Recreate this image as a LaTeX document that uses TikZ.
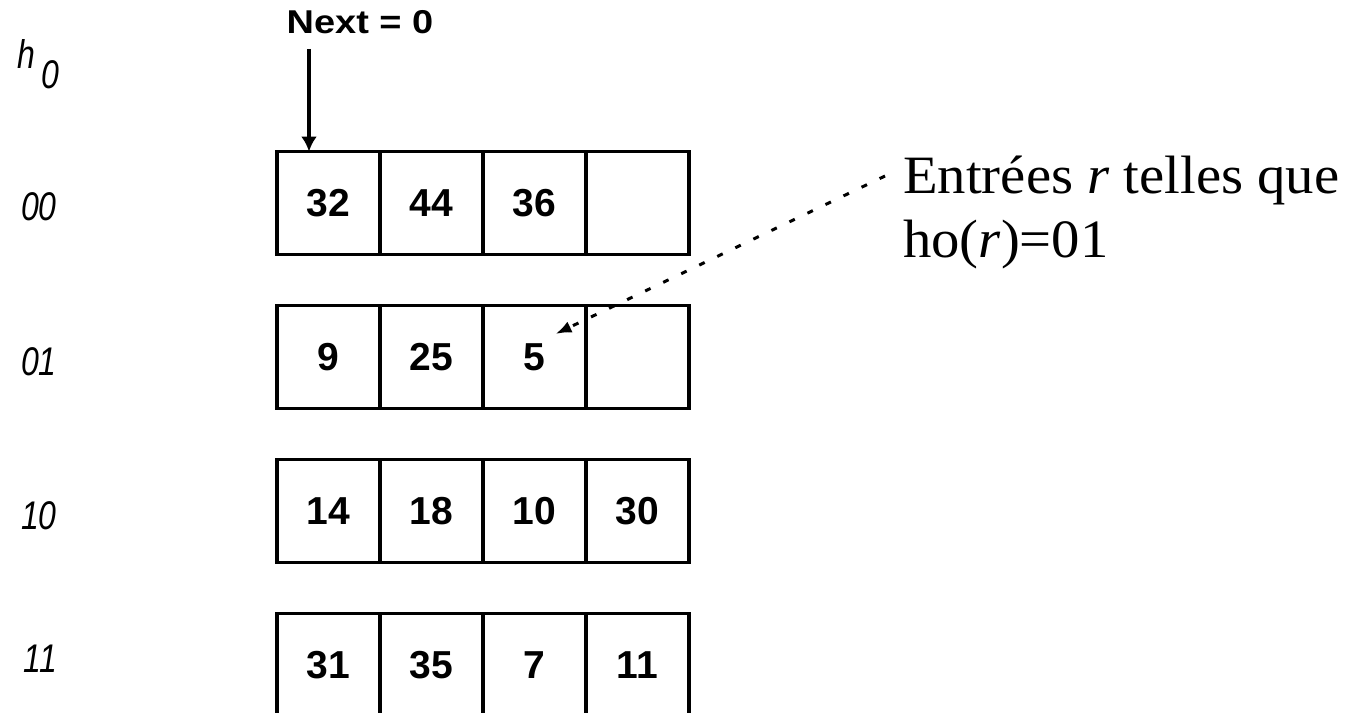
\documentclass[tikz,border=0pt]{standalone}
\usepackage{fontspec}
\usepackage{tikz}
\usetikzlibrary{positioning,arrows.meta}
\newfontfamily\cellfont{Liberation Sans}
\newfontfamily\nextfont[FakeStretch=1.15]{Liberation Sans}
\newfontfamily\lblfont[FakeStretch=0.8]{Liberation Sans}
\newfontfamily\notefont[FakeStretch=1.05]{Liberation Serif}

\begin{document}
\begin{tikzpicture}[x=1pt,y=-1pt,>={Latex[length=16pt,width=12pt]},node distance=51pt and 0pt,
  cell/.style={draw,line width=3.5pt,minimum size=103pt,inner sep=0pt,outer sep=0pt,
    font=\cellfont\bfseries\fontsize{39}{40}\selectfont},
  lbl/.style={inner sep=0pt,font=\lblfont\itshape\fontsize{40}{42}\selectfont},
  nxt/.style={inner sep=0pt,font=\nextfont\bfseries\fontsize{33}{36}\selectfont},
  note/.style={inner sep=0pt,align=left,font=\notefont\fontsize{54}{64}\selectfont}]
  \useasboundingbox (0,0) rectangle (1354,712);
  \clip (0,0) rectangle (1354,712);
  % buckets
  \node[cell] (r00a) at (328.5,203) {32};
  \node[cell,right=of r00a] (r00b) {44};
  \node[cell,right=of r00b] (r00c) {36};
  \node[cell,right=of r00c] (r00d) {};
  \node[cell,below=of r00a] (r01a) {9};
  \node[cell,right=of r01a] (r01b) {25};
  \node[cell,right=of r01b] (r01c) {5};
  \node[cell,right=of r01c] (r01d) {};
  \node[cell,below=of r01a] (r10a) {14};
  \node[cell,right=of r10a] (r10b) {18};
  \node[cell,right=of r10b] (r10c) {10};
  \node[cell,right=of r10c] (r10d) {30};
  \node[cell,below=of r10a] (r11a) {31};
  \node[cell,right=of r11a] (r11b) {35};
  \node[cell,right=of r11b] (r11c) {7};
  \node[cell,right=of r11c] (r11d) {11};
  % hash values
  \node[lbl,left=220pt of r00a,yshift=-4pt] (l00) {00};
  \node[lbl,left=220pt of r01a,yshift=-5pt] (l01) {01};
  \node[lbl,left=220pt of r10a,yshift=-5pt] (l10) {10};
  \node[lbl,left=220pt of r11a,yshift=6pt] (l11) {11};
  \node[lbl,above=104pt of l00,xshift=-1pt] (h0) {h\kern6pt\raisebox{-20pt}{0}};
  \node[nxt] (next) at (360,22) {Next = 0};
  \node[note,anchor=north west] (ent) at (903,156) {Entrées \textit{r} telles que\\ho(\textit{r})=01};
  \draw[->,line width=3.5pt,>={Latex[length=15pt,width=16pt]},shorten <=15pt]
    ([xshift=32pt]r00a.north west |- next.south) -- ([xshift=32pt]r00a.north west);
  \draw[->,line width=3pt,dash pattern=on 6pt off 14pt]
    ([shift={(-18,20)}]ent.north west) -- ([shift={(21,-23)}]r01c.center);
\end{tikzpicture}
\end{document}
